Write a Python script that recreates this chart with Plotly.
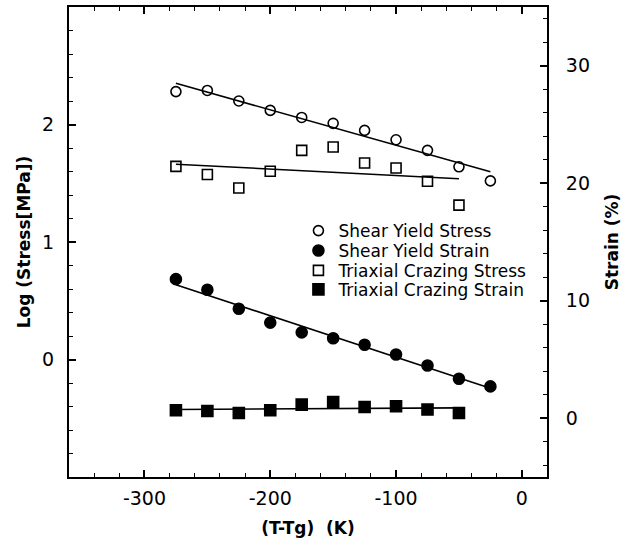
import numpy as np
import plotly.graph_objects as go

# Temperature relative to Tg (K)
t_shear = [-275, -250, -225, -200, -175, -150, -125, -100, -75, -50, -25]
t_craze = [-275, -250, -225, -200, -175, -150, -125, -100, -75, -50]

# Log stress (MPa), left axis
shear_yield_stress = [2.28, 2.29, 2.20, 2.12, 2.06, 2.01, 1.95, 1.87, 1.78, 1.64, 1.52]
craze_stress = [1.644, 1.574, 1.46, 1.602, 1.78, 1.808, 1.672, 1.63, 1.517, 1.314]

# Strain (%), right axis
shear_yield_strain = [11.84, 10.93, 9.32, 8.14, 7.31, 6.81, 6.25, 5.42, 4.49, 3.36, 2.71]
craze_strain = [0.68, 0.62, 0.45, 0.68, 1.16, 1.38, 0.96, 1.02, 0.74, 0.45]

series_names = ["Shear Yield Stress", "Shear Yield Strain",
                "Triaxial Crazing Stress", "Triaxial Crazing Strain"]

# axis tick labels (plain hyphen for negatives)
x_ticks = [-300, -200, -100, 0]
x_ticktext = ["-300", "-200", "-100", "0"]
y_ticks = [0, 1, 2]
y2_ticks = [0, 10, 20, 30]

FONT = "DejaVu Sans"
BLACK = "black"


def fit_line(x, y):
    """Least-squares straight line across the span of the data."""
    k, b = np.polyfit(x, y, 1)
    xs = np.array([min(x), max(x)], dtype=float)
    return xs, k * xs + b


fig = go.Figure()

series = [
    (t_shear, shear_yield_stress, "y", "circle-open", 10),
    (t_shear, shear_yield_strain, "y2", "circle", 11),
    (t_craze, craze_stress, "y", "square-open", 10),
    (t_craze, craze_strain, "y2", "square", 11),
]

# regression lines (not in the legend)
for x, y, ax, _, _ in series:
    fx, fy = fit_line(x, y)
    fig.add_trace(go.Scatter(x=fx, y=fy, yaxis=ax, mode="lines",
                             line=dict(color=BLACK, width=1.6),
                             showlegend=False, hoverinfo="skip"))

# measured points, each with its own one-line legend box
legend_ids = ["legend", "legend2", "legend3", "legend4"]
for (x, y, ax, sym, size), name, lg in zip(series, series_names, legend_ids):
    fig.add_trace(go.Scatter(
        x=x, y=y, yaxis=ax, mode="markers", name=name, legend=lg,
        marker=dict(symbol=sym, size=size, color=BLACK,
                    line=dict(color=BLACK, width=1.6)),
    ))

tick_font = dict(family=FONT, size=19, color=BLACK)
title_font = dict(family=FONT, size=17, color=BLACK, weight="bold")

legend_rows_y = [0.5233, 0.4809, 0.4386, 0.3983]
legend_layout = {
    lg: dict(x=0.48, y=ly, xanchor="left", yanchor="middle",
             bgcolor="rgba(0,0,0,0)", borderwidth=0,
             font=dict(family=FONT, size=17, color=BLACK),
             itemsizing="trace")
    for lg, ly in zip(legend_ids, legend_rows_y)
}

fig.update_layout(
    width=631, height=542,
    margin=dict(l=69, r=84, t=5, b=65),
    paper_bgcolor="white", plot_bgcolor="white",
    showlegend=True,
    **legend_layout,
    xaxis=dict(
        range=[-360, 20], tickvals=x_ticks, ticktext=x_ticktext,
        ticks="inside", ticklen=7, tickwidth=1.5, tickcolor=BLACK,
        minor=dict(tickmode="linear", tick0=0, dtick=20, ticks="inside",
                   ticklen=4, tickwidth=1.2, tickcolor=BLACK),
        showline=True, linewidth=2, linecolor=BLACK, mirror="ticks",
        showgrid=False, zeroline=False,
        tickfont=tick_font, ticklabelstandoff=3,
        title=dict(text="(T-Tg)  (K)", font=title_font, standoff=14),
    ),
    yaxis=dict(
        range=[-1, 3], tickvals=y_ticks,
        ticks="inside", ticklen=7, tickwidth=1.5, tickcolor=BLACK,
        minor=dict(tickmode="linear", tick0=0, dtick=0.2, ticks="inside",
                   ticklen=4, tickwidth=1.2, tickcolor=BLACK),
        showline=True, linewidth=2, linecolor=BLACK,
        showgrid=False, zeroline=False,
        tickfont=tick_font, ticklabelstandoff=9,
        title=dict(text="Log (Stress[MPa])", font=title_font, standoff=7),
    ),
    yaxis2=dict(
        overlaying="y", side="right",
        range=[-5, 35], tickvals=y2_ticks,
        ticks="inside", ticklen=7, tickwidth=1.5, tickcolor=BLACK,
        minor=dict(tickmode="linear", tick0=0, dtick=2, ticks="inside",
                   ticklen=4, tickwidth=1.2, tickcolor=BLACK),
        showline=True, linewidth=2, linecolor=BLACK,
        showgrid=False, zeroline=False,
        tickfont=tick_font, ticklabelstandoff=13,
        title=dict(text="Strain (%)", font=title_font, standoff=17),
    ),
)

fig.write_html("out.html")
